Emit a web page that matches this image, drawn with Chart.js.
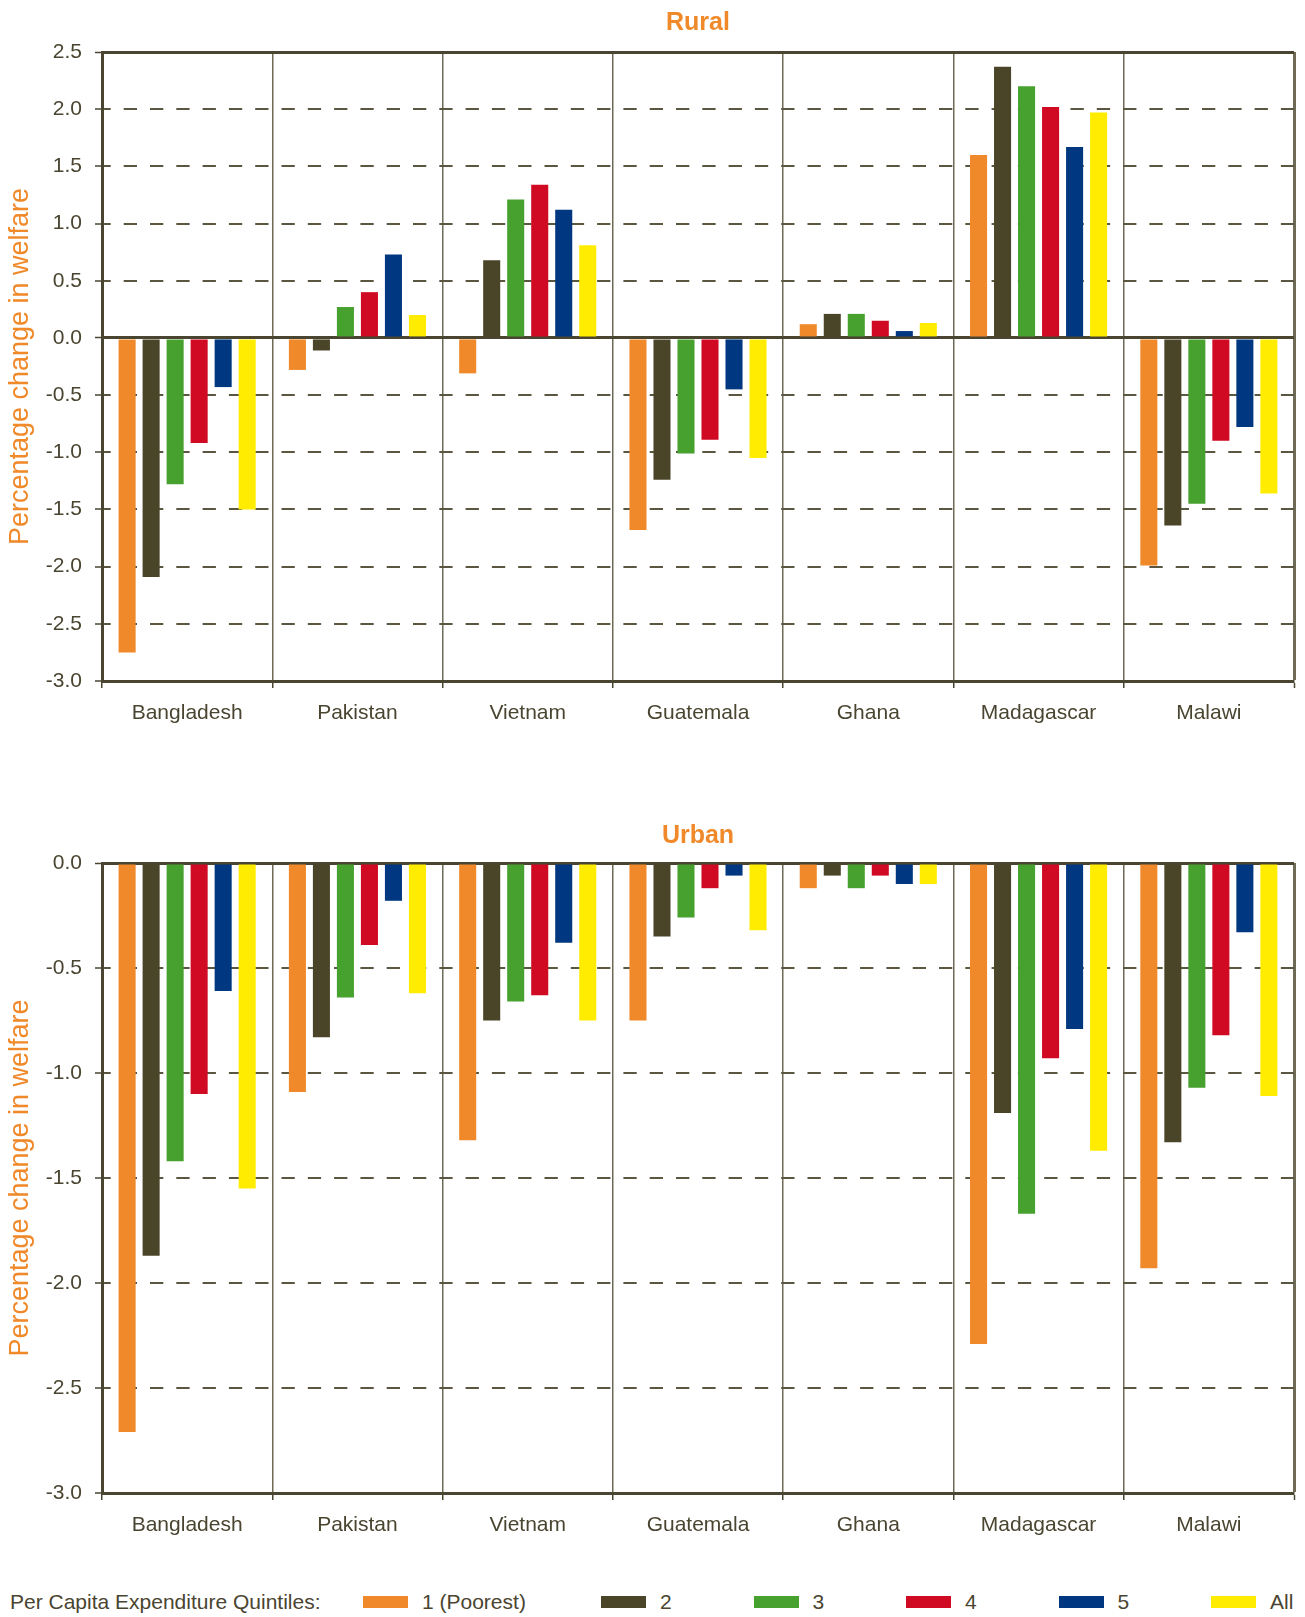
<!DOCTYPE html>
<html>
<head>
<meta charset="utf-8">
<script src="https://cdn.jsdelivr.net/npm/chart.js@4.4.0/dist/chart.umd.min.js"></script>
<style>
  body { margin: 0; background: #fff; width: 1305px; height: 1617px; position: relative; overflow: hidden;
         font-family: "Liberation Sans", Arial, sans-serif; }
  .wrap { position: absolute; left: 0; }
  #legend { position: absolute; left: 10px; top: 1588px; height: 28px; display: flex; align-items: center;
            font-size: 21px; color: #4a4530; white-space: nowrap; }
  #legend .lt { width: 353px; }
  #legend .item { display: flex; align-items: center; width: 152.5px; }
  #legend .item:first-of-type { width: 238px; }
  #legend .sw { width: 45px; height: 12px; margin-right: 14px; }
</style>
</head>
<body>
<div class="wrap" style="top:0"><canvas id="rural" width="1305" height="740"></canvas></div>
<div class="wrap" style="top:790px"><canvas id="urban" width="1305" height="762"></canvas></div>
<div id="legend"></div>
<script>
const countries = ['Bangladesh', 'Pakistan', 'Vietnam', 'Guatemala', 'Ghana', 'Madagascar', 'Malawi'];
const quintiles = ['1 (Poorest)', '2', '3', '4', '5', 'All'];
const colors = ['#f0892a', '#4a4528', '#46a12e', '#cf0a22', '#003781', '#ffec00'];

// Rural
const ruralQ1  = [-2.75, -0.28, -0.31, -1.68, 0.12, 1.60, -1.99];
const ruralQ2  = [-2.09, -0.11,  0.68, -1.24, 0.21, 2.37, -1.64];
const ruralQ3  = [-1.28,  0.27,  1.21, -1.01, 0.21, 2.20, -1.45];
const ruralQ4  = [-0.92,  0.40,  1.34, -0.89, 0.15, 2.02, -0.90];
const ruralQ5  = [-0.43,  0.73,  1.12, -0.45, 0.06, 1.67, -0.78];
const ruralAll = [-1.50,  0.20,  0.81, -1.05, 0.13, 1.97, -1.36];

// Urban
const urbanQ1  = [-2.71, -1.09, -1.32, -0.75, -0.12, -2.29, -1.93];
const urbanQ2  = [-1.87, -0.83, -0.75, -0.35, -0.06, -1.19, -1.33];
const urbanQ3  = [-1.42, -0.64, -0.66, -0.26, -0.12, -1.67, -1.07];
const urbanQ4  = [-1.10, -0.39, -0.63, -0.12, -0.06, -0.93, -0.82];
const urbanQ5  = [-0.61, -0.18, -0.38, -0.06, -0.10, -0.79, -0.33];
const urbanAll = [-1.55, -0.62, -0.75, -0.32, -0.10, -1.37, -1.11];

const ruralTicks = [-3.0, 2.5];
const urbanTicks = [-3.0, 0.0];

const ink = '#4a4530';
const orange = '#f0892a';
const font = '"Liberation Sans", Arial, sans-serif';

function getDataSets(series) {
  return series.map((data, i) => ({
    label: quintiles[i],
    data: data,
    backgroundColor: colors[i],
    borderWidth: 0,
    categoryPercentage: 0.846,
    barPercentage: 0.71
  }));
}

function drawChart(id, title, series, range, titlePad) {
  const yMin = range[0], yMax = range[1];
  const solid = (ctx) => ctx.tick && (ctx.tick.value === 0 || ctx.tick.value === yMax);
  return new Chart(document.getElementById(id), {
    type: 'bar',
    data: { labels: countries, datasets: getDataSets(series) },
    options: {
      responsive: false,
      animation: false,
      layout: { padding: { left: 0, right: 11, top: 0, bottom: 0 } },
      plugins: {
        legend: { display: false },
        tooltip: { enabled: false },
        title: {
          display: true,
          fullSize: false,
          text: title,
          color: orange,
          font: { family: font, size: 25, weight: 'bold' },
          padding: titlePad
        }
      },
      scales: {
        x: {
          afterFit: (s) => { s.height = 59; },
          ticks: { color: ink, font: { family: font, size: 21 }, padding: 13, maxRotation: 0 },
          grid: {
            offset: true,
            color: '#6e6a55',
            lineWidth: (ctx) => ctx.type === 'scale' ? 3 : 1.5,
            tickLength: 7,
            tickColor: ink,
            tickWidth: 1.5
          },
          border: { color: ink, width: 3 }
        },
        y: {
          min: yMin,
          max: yMax,
          afterFit: (s) => { s.width = 102; },
          ticks: {
            stepSize: 0.5,
            color: ink,
            font: { family: font, size: 21 },
            padding: 13,
            callback: (v) => Number(v).toFixed(1)
          },
          title: {
            display: true,
            text: 'Percentage change in welfare',
            color: orange,
            font: { family: font, size: 27 },
            padding: { top: 4, bottom: 0 }
          },
          grid: {
            color: (ctx) => solid(ctx) ? ink : '#5a5640',
            lineWidth: (ctx) => solid(ctx) ? 3 : 2,
            tickLength: 7,
            tickColor: ink,
            tickWidth: 1.5
          },
          border: {
            color: ink,
            width: 3,
            dash: (ctx) => (ctx.tick && !solid(ctx)) ? [13.3, 13] : [],
            dashOffset: 6.6
          }
        }
      }
    }
  });
}

drawChart('rural', 'Rural', [ruralQ1, ruralQ2, ruralQ3, ruralQ4, ruralQ5, ruralAll], ruralTicks, { top: 8, bottom: 14 });
drawChart('urban', 'Urban', [urbanQ1, urbanQ2, urbanQ3, urbanQ4, urbanQ5, urbanAll], urbanTicks, { top: 31, bottom: 12 });

// legend
const legend = document.getElementById('legend');
const lt = document.createElement('span');
lt.className = 'lt';
lt.textContent = 'Per Capita Expenditure Quintiles:';
legend.appendChild(lt);
quintiles.forEach((q, i) => {
  const item = document.createElement('div');
  item.className = 'item';
  const sw = document.createElement('span');
  sw.className = 'sw';
  sw.style.background = colors[i];
  const tx = document.createElement('span');
  tx.textContent = q;
  item.appendChild(sw);
  item.appendChild(tx);
  legend.appendChild(item);
});
</script>
</body>
</html>
